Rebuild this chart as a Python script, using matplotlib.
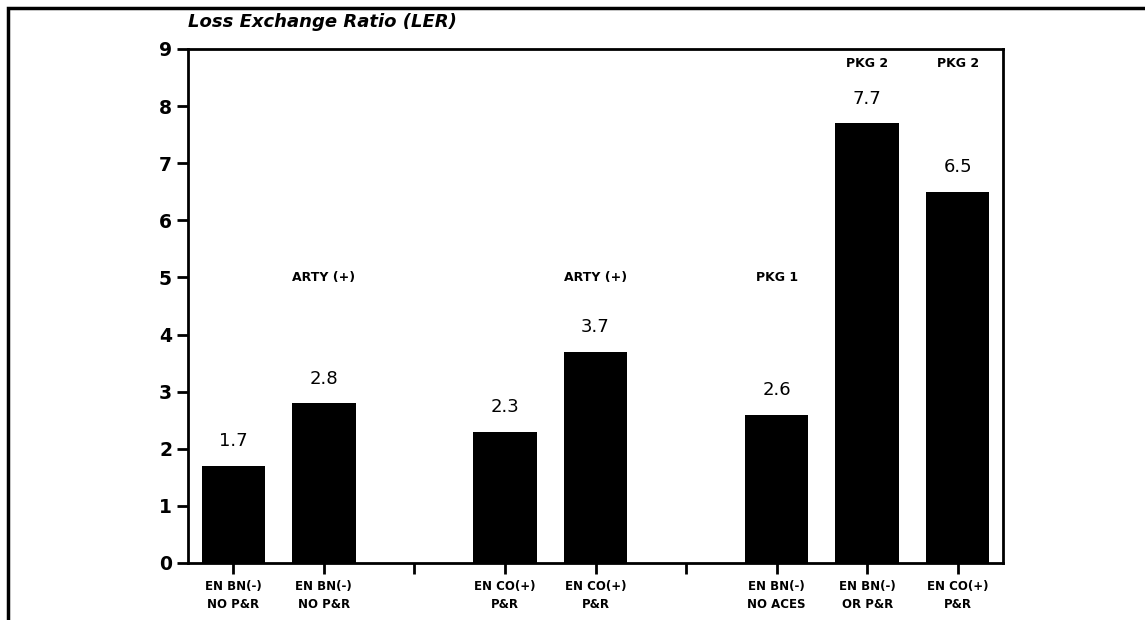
import matplotlib
matplotlib.use("Agg")
import matplotlib.pyplot as plt
from matplotlib.patches import Rectangle

positions = [1, 2, 4, 5, 7, 8, 9]
values = [1.7, 2.8, 2.3, 3.7, 2.6, 7.7, 6.5]
tick_pos = [1, 2, 3, 4, 5, 6, 7, 8, 9]
tick_labels = ["EN BN(-)\nNO P&R", "EN BN(-)\nNO P&R", "",
               "EN CO(+)\nP&R", "EN CO(+)\nP&R", "",
               "EN BN(-)\nNO ACES", "EN BN(-)\nOR P&R", "EN CO(+)\nP&R"]
notes = {2: ("ARTY (+)", 5.0), 5: ("ARTY (+)", 5.0), 7: ("PKG 1", 5.0),
         8: ("PKG 2", 8.75), 9: ("PKG 2", 8.75)}

fig = plt.figure(figsize=(11.45, 6.2), dpi=100)
ax = fig.add_axes([188/1145, 1-563/620, (1003-188)/1145, (563-49)/620])

ax.bar(positions, values, width=0.7, color="black")
for p, v in zip(positions, values):
    ax.text(p, v + 0.27, f"{v:.1f}", ha="center", va="bottom", fontsize=13)
for p, (txt, y) in notes.items():
    ax.text(p, y, txt, ha="center", va="center", fontsize=9, fontweight="bold")

ax.set_xlim(0.5, 9.5)
ax.set_ylim(0, 9)
ax.set_yticks(range(10))
ax.set_yticklabels([str(i) for i in range(10)], fontsize=13.5, fontweight="bold")
ax.set_xticks(tick_pos)
ax.set_xticklabels(tick_labels, fontsize=8.5, fontweight="bold", linespacing=1.5)
ax.tick_params(axis="both", direction="out", length=8, width=2)
ax.tick_params(axis="x", pad=4)
for s in ax.spines.values():
    s.set_linewidth(2)

fig.text(188/1145, 1-22/620, "Loss Exchange Ratio (LER)", fontsize=13,
         style="italic", fontweight="bold", ha="left", va="center")

frame = Rectangle((8/1145, -0.2), 1.2, 1.2 - 8/620, transform=fig.transFigure,
                  fill=False, lw=2.5, edgecolor="black", clip_on=False)
fig.patches.append(frame)

fig.savefig("out.png", dpi=100)
